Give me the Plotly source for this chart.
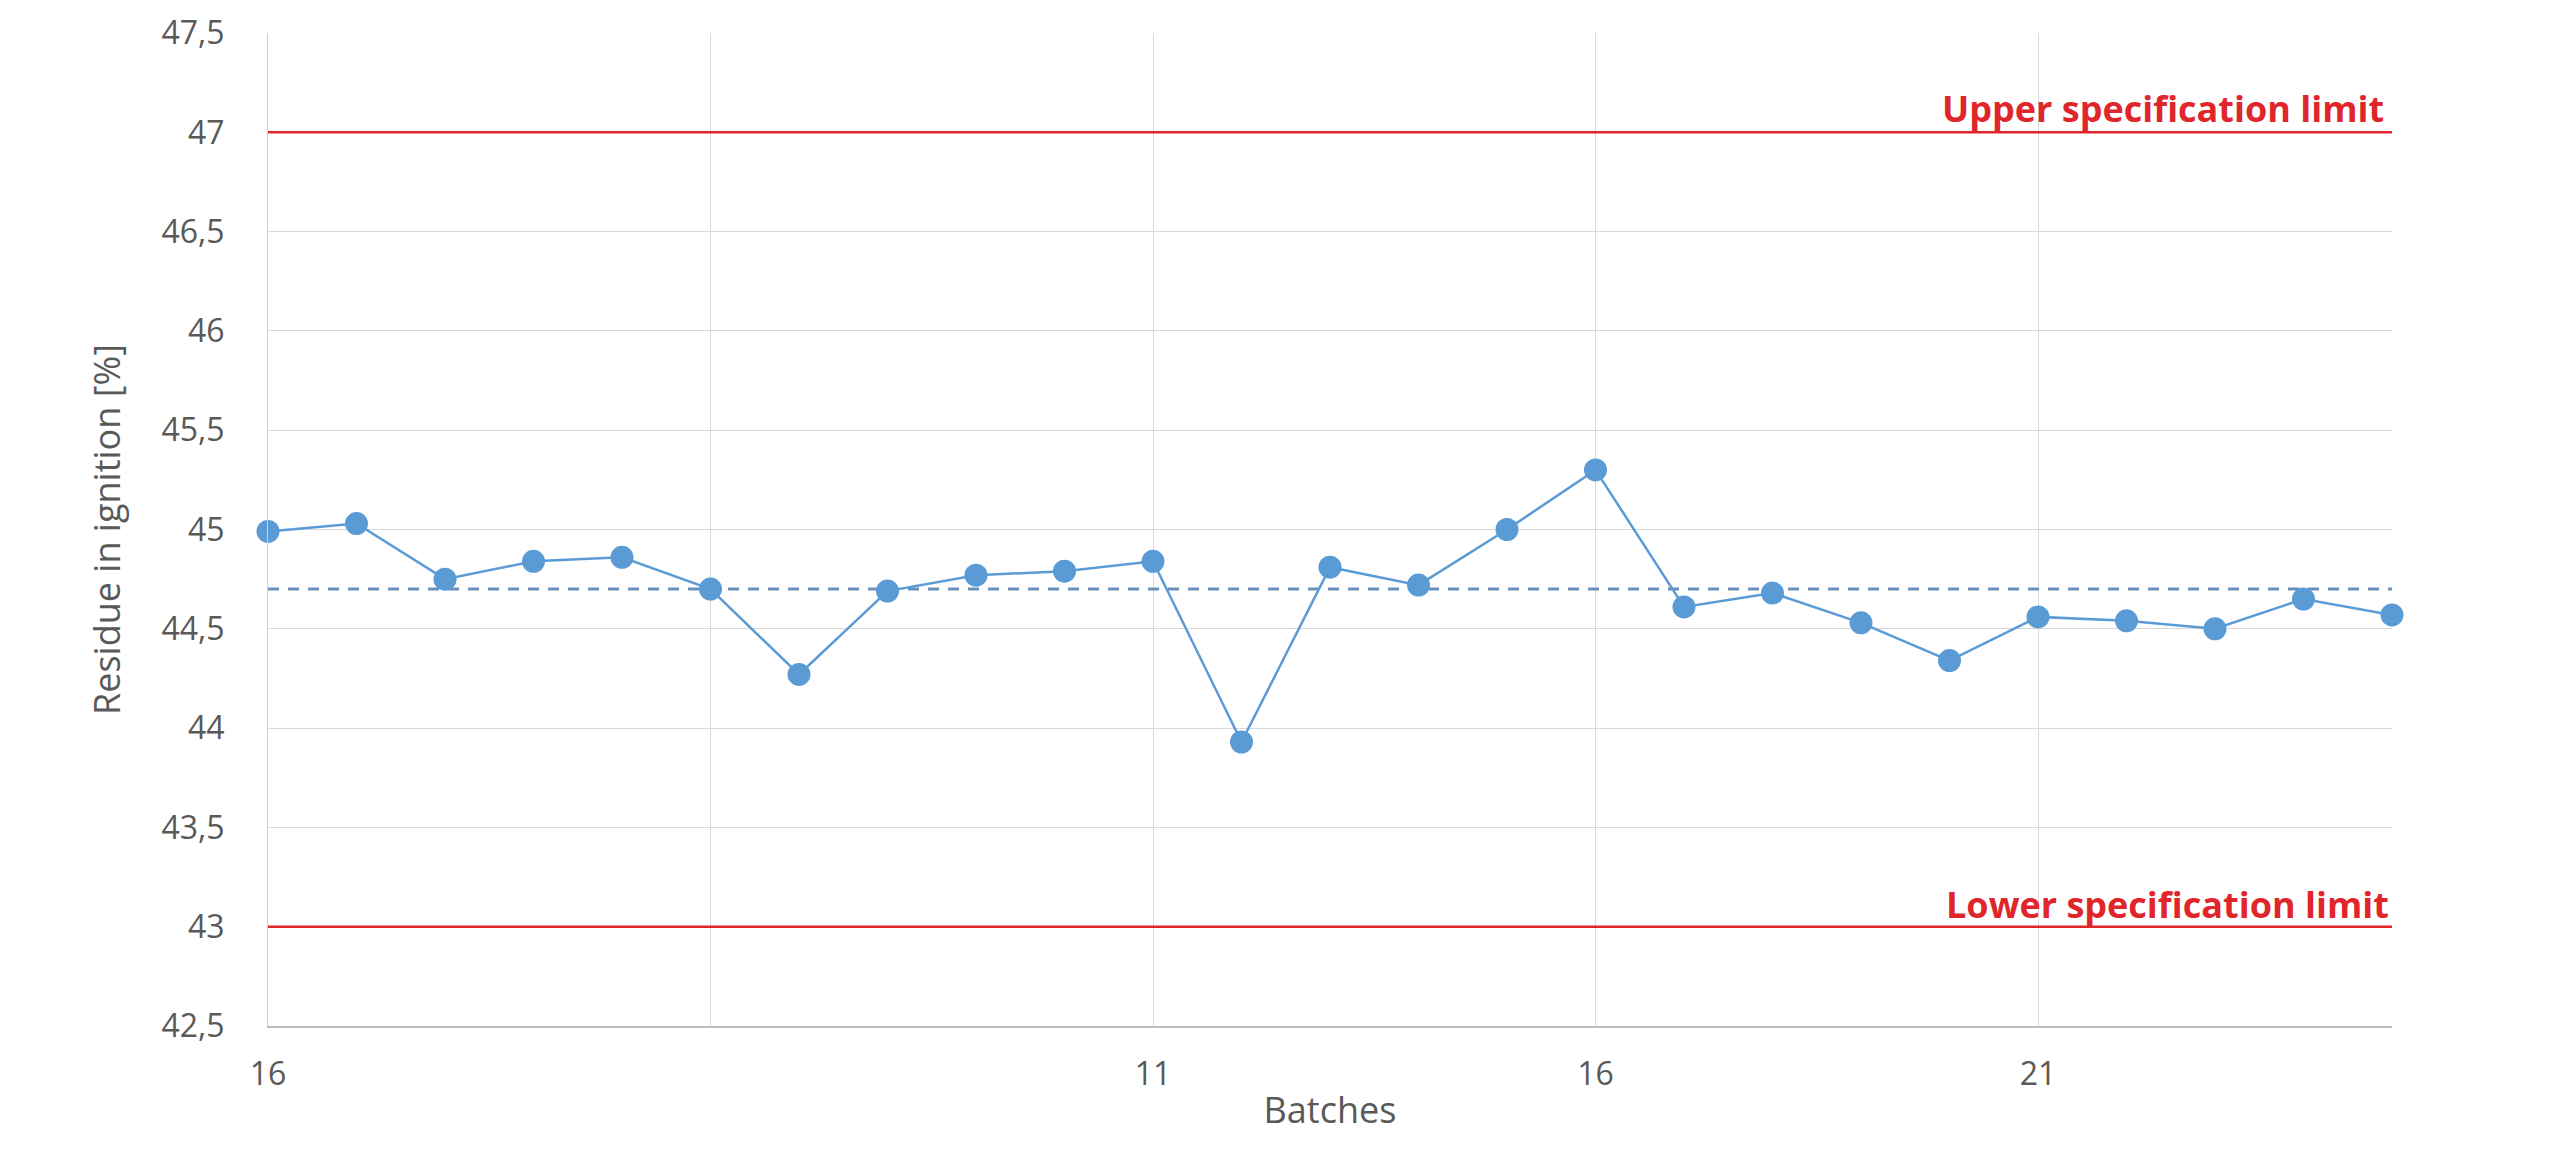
import plotly.graph_objects as go

# ---- data ----
batches = list(range(1, 26))
residue = [44.99, 45.03, 44.75, 44.84, 44.86, 44.70, 44.27, 44.69, 44.77, 44.79,
           44.84, 43.93, 44.81, 44.72, 45.00, 45.30, 44.61, 44.68, 44.53, 44.34,
           44.56, 44.54, 44.50, 44.65, 44.57]
mean_value = 44.70
upper_limit = 47.0
lower_limit = 43.0
upper_label = "Upper specification limit"
lower_label = "Lower specification limit"
x_tickvals = [1, 6, 11, 16, 21, 25]
x_ticktext = ["16", "", "11", "16", "21", ""]
y_title = "Residue in ignition [%]"
x_title = "Batches"

FONT = "Open Sans"
TICK_COLOR = "#595959"
BLUE = "#5b9bd5"
RED = "#e0262b"

fig = go.Figure()

# spec limits
for lim in (upper_limit, lower_limit):
    fig.add_trace(go.Scatter(
        x=[batches[0], batches[-1]], y=[lim, lim], mode="lines",
        line=dict(color=RED, width=2.5), hoverinfo="skip", showlegend=False,
        cliponaxis=False))

# mean dashed line
fig.add_trace(go.Scatter(
    x=[batches[0], batches[-1]], y=[mean_value, mean_value], mode="lines",
    line=dict(color="#6a8fb8", width=3, dash="11px,9px"),
    hoverinfo="skip", showlegend=False))

# data series
fig.add_trace(go.Scatter(
    x=batches, y=residue, mode="lines+markers",
    line=dict(color=BLUE, width=2.5),
    marker=dict(color=BLUE, size=23, line=dict(width=0)),
    showlegend=False, cliponaxis=False))

fig.add_annotation(x=batches[-1], y=upper_limit, xref="x", yref="y",
                   text=upper_label, showarrow=False, xanchor="right",
                   yanchor="bottom", xshift=-6, yshift=-3,
                   font=dict(family=FONT, size=36, color=RED, weight="bold"))
fig.add_annotation(x=batches[-1], y=lower_limit, xref="x", yref="y",
                   text=lower_label, showarrow=False, xanchor="right",
                   yanchor="bottom", xshift=-1, yshift=-4,
                   font=dict(family=FONT, size=36, color=RED, weight="bold"))

fig.update_layout(
    width=2560, height=1171,
    margin=dict(l=260, r=176, t=25, b=153),
    paper_bgcolor="white", plot_bgcolor="white",
    separators=",.",
    font=dict(family=FONT, color=TICK_COLOR),
)

fig.update_xaxes(
    range=[1, 25], tickmode="array", tickvals=x_tickvals, ticktext=x_ticktext,
    showgrid=True, gridcolor="#d9d9d9", gridwidth=1,
    showline=True, linecolor="#bfbfbf", linewidth=2,
    ticks="", tickfont=dict(family=FONT, size=32, color=TICK_COLOR),
    ticklabelstandoff=19, zeroline=False, automargin=False,
    ticklabeloverflow="allow",
    title=dict(text=x_title, font=dict(family=FONT, size=36, color=TICK_COLOR), standoff=4),
)
fig.update_yaxes(
    range=[42.5, 47.5], dtick=0.5, tick0=42.5,
    showgrid=True, gridcolor="#d9d9d9", gridwidth=1,
    showline=True, linecolor="#d0d0d0", linewidth=1,
    ticks="", tickfont=dict(family=FONT, size=32, color=TICK_COLOR),
    ticklabelstandoff=36, zeroline=False, automargin=False,
    ticklabeloverflow="allow",
    title=dict(text=y_title, font=dict(family=FONT, size=36, color=TICK_COLOR), standoff=29),
)

fig.write_html("out.html")
